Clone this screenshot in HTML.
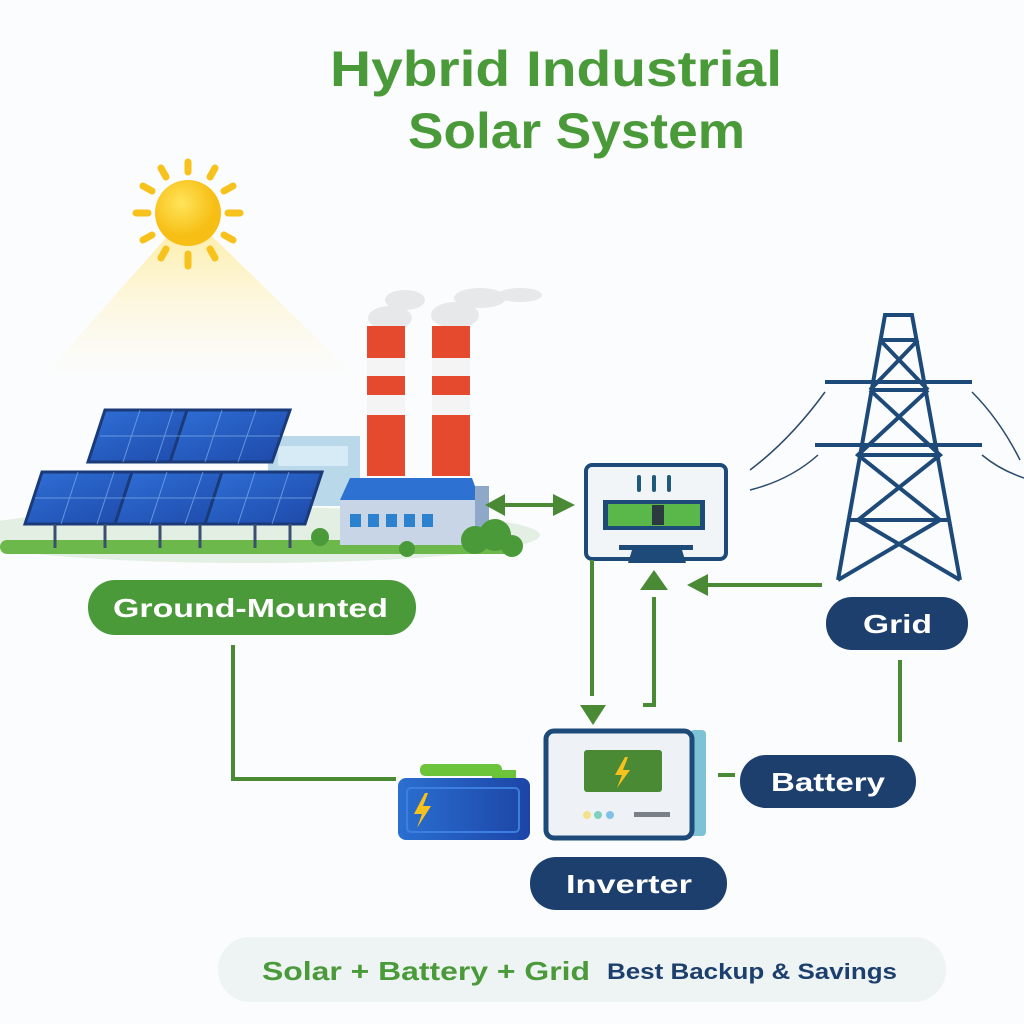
<!DOCTYPE html>
<html><head><meta charset="utf-8"><style>
html,body{margin:0;padding:0;background:#fbfcfd;}
svg{display:block}
text{font-family:"Liberation Sans",sans-serif;font-weight:bold}
</style></head><body>
<svg width="1024" height="1024" viewBox="0 0 1024 1024" xmlns="http://www.w3.org/2000/svg">
<defs>
<linearGradient id="cone" x1="0" y1="0" x2="0" y2="1"><stop offset="0" stop-color="#ffe680" stop-opacity=".8"/><stop offset="1" stop-color="#fff6d0" stop-opacity="0"/></linearGradient>
<linearGradient id="pan" x1="0" y1="0" x2="1" y2="1"><stop offset="0" stop-color="#2f6fd6"/><stop offset="1" stop-color="#1d48a8"/></linearGradient>
<radialGradient id="sun" cx=".4" cy=".35"><stop offset="0" stop-color="#ffe45a"/><stop offset="1" stop-color="#f7bf16"/></radialGradient>
<linearGradient id="bat" x1="0" y1="0" x2="1" y2="0"><stop offset="0" stop-color="#2a6fd0"/><stop offset="1" stop-color="#1c45a6"/></linearGradient>
</defs>
<rect width="1024" height="1024" fill="#fbfcfd"/>
<text x="330" y="86" font-size="50" fill="#4a9a3a" textLength="452" lengthAdjust="spacingAndGlyphs">Hybrid Industrial</text>
<text x="408" y="148" font-size="50" fill="#4a9a3a" textLength="337" lengthAdjust="spacingAndGlyphs">Solar System</text>
<!-- sun -->
<polygon points="188,213 40,380 360,380" fill="url(#cone)"/>
<g stroke="#f7c21c" stroke-width="7" stroke-linecap="round">
<line x1="188" y1="162" x2="188" y2="172"/><line x1="188" y1="254" x2="188" y2="266"/>
<line x1="136" y1="213" x2="148" y2="213"/><line x1="228" y1="213" x2="240" y2="213"/>
<line x1="161" y1="168" x2="166" y2="177"/><line x1="215" y1="168" x2="210" y2="177"/>
<line x1="161" y1="258" x2="166" y2="249"/><line x1="215" y1="258" x2="210" y2="249"/>
<line x1="143" y1="186" x2="152" y2="191"/><line x1="233" y1="186" x2="224" y2="191"/>
<line x1="143" y1="240" x2="152" y2="235"/><line x1="233" y1="240" x2="224" y2="235"/>
</g>
<circle cx="188" cy="213" r="33" fill="url(#sun)"/>
<!-- ground -->
<ellipse cx="250" cy="535" rx="290" ry="28" fill="#e4efe4"/>
<rect x="0" y="540" width="520" height="14" rx="7" fill="#6cb84a"/>
<!-- back building -->
<rect x="268" y="436" width="92" height="70" fill="#b9d8ea"/><rect x="278" y="446" width="70" height="20" fill="#d6ebf5"/>
<!-- smoke -->
<g fill="#e6e8ea"><ellipse cx="390" cy="318" rx="22" ry="12"/><ellipse cx="405" cy="300" rx="20" ry="10"/><ellipse cx="455" cy="315" rx="24" ry="13"/><ellipse cx="480" cy="298" rx="26" ry="10"/><ellipse cx="520" cy="295" rx="22" ry="7"/></g>
<!-- chimneys -->
<g>
<rect x="367" y="326" width="38" height="150" fill="#e64a2e"/>
<rect x="367" y="358" width="38" height="18" fill="#f4f4f4"/><rect x="367" y="395" width="38" height="20" fill="#f4f4f4"/>
<rect x="432" y="326" width="38" height="150" fill="#e64a2e"/>
<rect x="432" y="358" width="38" height="18" fill="#f4f4f4"/><rect x="432" y="395" width="38" height="20" fill="#f4f4f4"/>
</g>
<!-- factory -->
<rect x="340" y="500" width="140" height="45" fill="#c7d5e6"/>
<polygon points="350,478 472,478 480,500 340,500 " fill="#2d72d2"/>
<g fill="#2c82cf"><rect x="350" y="514" width="11" height="13"/><rect x="368" y="514" width="11" height="13"/><rect x="386" y="514" width="11" height="13"/><rect x="404" y="514" width="11" height="13"/><rect x="422" y="514" width="11" height="13"/></g>
<rect x="475" y="486" width="14" height="58" fill="#8ea8c8"/>
<g fill="#4a9a3a"><circle cx="475" cy="540" r="14"/><circle cx="495" cy="535" r="16"/><circle cx="512" cy="546" r="11"/><circle cx="320" cy="537" r="9"/><circle cx="407" cy="549" r="8"/></g>
<!-- solar panels -->
<g stroke="#1a3a7a" stroke-width="3">
<polygon points="105,410 207,410 190,462 88,462" fill="url(#pan)"/>
<polygon points="187,410 290,410 272,462 170,462" fill="url(#pan)"/>
<polygon points="42,472 150,472 133,524 25,524" fill="url(#pan)"/>
<polygon points="132,472 238,472 220,524 115,524" fill="url(#pan)"/>
<polygon points="222,472 322,472 305,524 205,524" fill="url(#pan)"/>
</g>
<g stroke="#7fb0ee" stroke-width="1" opacity=".7">
<line x1="100" y1="436" x2="280" y2="436"/><line x1="35" y1="498" x2="312" y2="498"/>
<line x1="140" y1="410" x2="123" y2="462"/><line x1="173" y1="410" x2="156" y2="462"/>
<line x1="222" y1="410" x2="205" y2="462"/><line x1="256" y1="410" x2="238" y2="462"/>
<line x1="78" y1="472" x2="61" y2="524"/><line x1="114" y1="472" x2="97" y2="524"/>
<line x1="167" y1="472" x2="150" y2="524"/><line x1="203" y1="472" x2="185" y2="524"/>
<line x1="255" y1="472" x2="238" y2="524"/><line x1="289" y1="472" x2="272" y2="524"/>
</g>
<g stroke="#3b4f6e" stroke-width="3"><line x1="55" y1="524" x2="55" y2="548"/><line x1="105" y1="524" x2="105" y2="548"/><line x1="160" y1="524" x2="160" y2="548"/><line x1="200" y1="524" x2="200" y2="548"/><line x1="255" y1="524" x2="255" y2="548"/><line x1="290" y1="524" x2="290" y2="548"/></g>
<!-- double arrow -->
<g fill="#4a8a34"><line x1="500" y1="505" x2="560" y2="505" stroke="#4a8a34" stroke-width="4"/><polygon points="485,505 505,494 505,516"/><polygon points="575,505 553,494 553,516"/></g>
<!-- monitor -->
<rect x="586" y="465" width="140" height="94" rx="6" fill="#f2f5f8" stroke="#1e4a7a" stroke-width="4"/>
<rect x="603" y="500" width="102" height="30" fill="#1e4a7a"/>
<rect x="608" y="504" width="92" height="22" fill="#5ab84a"/>
<rect x="652" y="505" width="12" height="20" fill="#2a3a40"/>
<g stroke="#1e5a7a" stroke-width="4" stroke-linecap="round"><line x1="639" y1="477" x2="639" y2="490"/><line x1="654" y1="477" x2="654" y2="490"/><line x1="669" y1="477" x2="669" y2="490"/></g>
<rect x="619" y="545" width="74" height="5" fill="#1e4a7a"/><polygon points="632,550 682,550 686,563 628,563" fill="#1e4a7a"/>
<!-- verticals -->
<g stroke="#4a8a34" stroke-width="4" fill="none">
<line x1="592" y1="560" x2="592" y2="696"/>
<polyline points="654,597 654,705 643,705"/>
<line x1="700" y1="585" x2="822" y2="585"/>
<polyline points="900,660 900,742"/>
<line x1="718" y1="775" x2="735" y2="775"/>
<polyline points="233,645 233,779 396,779"/>
</g>
<g fill="#4a8a34"><polygon points="580,705 606,705 593,725"/><polygon points="640,590 668,590 654,570"/><polygon points="687,585 708,574 708,596"/></g>
<!-- tower -->
<g stroke="#1e4a7a" stroke-width="4" fill="none">
<polyline points="838,580 885,315 912,315 960,580"/>
<line x1="870" y1="390" x2="928" y2="390"/><line x1="858" y1="455" x2="940" y2="455"/><line x1="848" y1="520" x2="950" y2="520"/>
<polyline points="870,390 940,455 858,520 960,580"/><polyline points="928,390 858,455 940,520 838,580"/>
<line x1="880" y1="340" x2="918" y2="340"/><polyline points="880,340 928,390"/><polyline points="918,340 870,390"/>
<line x1="825" y1="382" x2="972" y2="382"/><line x1="815" y1="445" x2="982" y2="445"/>
</g>
<g stroke="#2a4a6a" stroke-width="1.5" fill="none">
<path d="M825,392 Q790,440 750,470"/><path d="M818,455 Q790,480 750,490"/><path d="M972,392 Q1000,420 1020,460"/><path d="M982,455 Q1000,470 1024,478"/>
</g>
<!-- pills -->
<rect x="88" y="580" width="328" height="55" rx="27" fill="#4a9a3a"/>
<text x="113" y="617" font-size="26" fill="#fff" textLength="275" lengthAdjust="spacingAndGlyphs">Ground-Mounted</text>
<rect x="826" y="597" width="142" height="53" rx="26" fill="#1c3f6e"/>
<text x="863" y="633" font-size="26" fill="#fff" textLength="69" lengthAdjust="spacingAndGlyphs">Grid</text>
<rect x="740" y="755" width="176" height="53" rx="26" fill="#1c3f6e"/>
<text x="771" y="791" font-size="26" fill="#fff" textLength="114" lengthAdjust="spacingAndGlyphs">Battery</text>
<rect x="530" y="857" width="197" height="53" rx="26" fill="#1c3f6e"/>
<text x="566" y="893" font-size="26" fill="#fff" textLength="126" lengthAdjust="spacingAndGlyphs">Inverter</text>
<!-- battery -->
<rect x="420" y="764" width="82" height="12" rx="5" fill="#6cc43a"/><rect x="492" y="770" width="24" height="12" fill="#6cc43a"/>
<rect x="398" y="778" width="132" height="62" rx="8" fill="url(#bat)"/>
<rect x="407" y="788" width="112" height="44" rx="4" fill="none" stroke="#3c7fe0" stroke-width="2"/>
<polygon points="425,793 414,814 422,814 417,828 431,806 423,806 428,793" fill="#f7c21c"/>
<!-- inverter -->
<rect x="690" y="730" width="16" height="106" rx="4" fill="#7ec2d6"/>
<rect x="546" y="731" width="146" height="107" rx="8" fill="#eef2f6" stroke="#1e4a7a" stroke-width="5"/>
<rect x="584" y="750" width="78" height="42" rx="3" fill="#4a8a34"/>
<polygon points="625,757 615,775 622,775 617,788 630,770 623,770 628,757" fill="#f7c21c"/>
<circle cx="587" cy="815" r="4" fill="#f3e08a"/><circle cx="598" cy="815" r="4" fill="#7ed0c0"/><circle cx="610" cy="815" r="4" fill="#7ec2e8"/>
<rect x="634" y="812" width="36" height="5" fill="#7a8088"/>
<!-- banner -->
<rect x="218" y="937" width="728" height="65" rx="32" fill="#eef3f3"/>
<text x="262" y="980" font-size="26" fill="#4a9a3a" textLength="328" lengthAdjust="spacingAndGlyphs">Solar + Battery + Grid</text>
<text x="607" y="979" font-size="22" fill="#1c3f6e" textLength="290" lengthAdjust="spacingAndGlyphs">Best Backup &amp; Savings</text>
</svg>
</body></html>
